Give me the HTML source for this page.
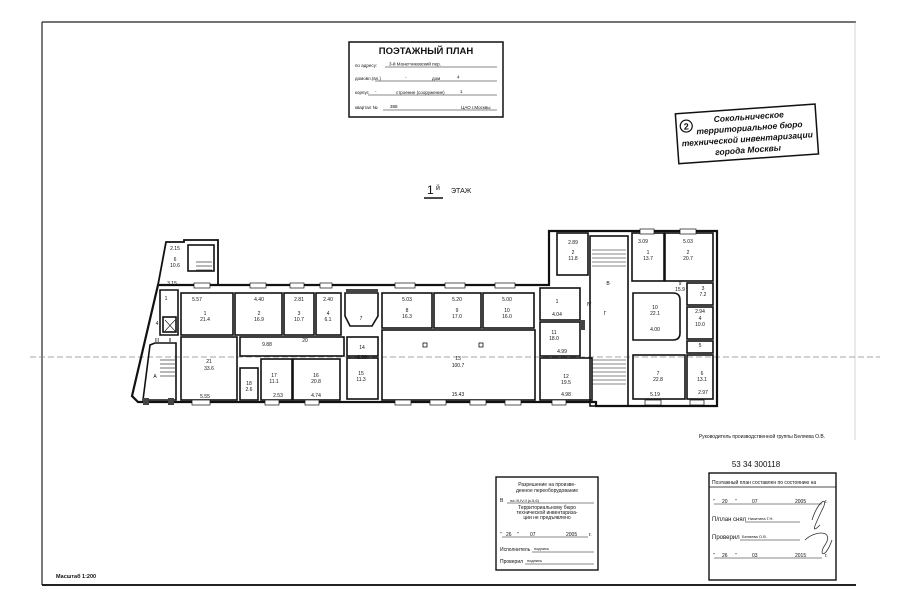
<!DOCTYPE html>
<html><head><meta charset="utf-8"><style>
html,body{margin:0;padding:0;background:#fff;}
svg{display:block;font-family:"Liberation Sans",sans-serif;}
text{fill:#111;}
</style></head><body>
<svg width="900" height="604" viewBox="0 0 900 604" xmlns="http://www.w3.org/2000/svg">
<rect width="900" height="604" fill="#fff"/>
<g stroke="#222" stroke-width="1.2" fill="none">
<line x1="42" y1="22" x2="856" y2="22"/>
<line x1="42" y1="22" x2="42" y2="585"/>
<line x1="42" y1="585" x2="856" y2="585" stroke-width="2"/>
<line x1="855" y1="22" x2="855" y2="440" stroke="#bbb" stroke-width="0.6"/>
</g>
<rect x="349" y="42" width="154" height="75" fill="none" stroke="#111" stroke-width="1.5"/>
<text x="426" y="54" font-size="9.5" font-weight="bold" text-anchor="middle">ПОЭТАЖНЫЙ ПЛАН</text>
<g font-size="4.5">
<text x="355" y="67">по адресу:</text><text x="389" y="65.5">3-й Монетчиковский пер.</text>
<line x1="385" y1="67" x2="497" y2="67" stroke="#111" stroke-width="0.6"/>
<text x="355" y="80">домовл.(вл.)</text><text x="405" y="79">-</text><text x="432" y="80">дом</text><text x="457" y="78.5">4</text>
<line x1="375" y1="81" x2="497" y2="81" stroke="#111" stroke-width="0.6"/>
<text x="355" y="94">корпус</text><text x="375" y="93">-</text><text x="396" y="94">строение (сооружение)</text><text x="460" y="93">1</text>
<line x1="368" y1="95" x2="497" y2="95" stroke="#111" stroke-width="0.6"/>
<text x="355" y="109">квартал №</text><text x="390" y="108">388</text><text x="461" y="109">ЦАО г.Москвы</text>
<line x1="383" y1="110" x2="497" y2="110" stroke="#111" stroke-width="0.6"/>
</g>
<g transform="rotate(-4 745 135)">
<rect x="677" y="109" width="140" height="50" fill="none" stroke="#111" stroke-width="1.5"/>
<circle cx="687" cy="122" r="6" fill="none" stroke="#111" stroke-width="1.2"/>
<text x="687" y="125.5" font-size="9" font-weight="bold" text-anchor="middle">2</text>
<g font-size="8.5" font-weight="bold" font-style="italic" text-anchor="middle">
<text x="750" y="120">Сокольническое</text>
<text x="750" y="131">территориальное бюро</text>
<text x="747" y="142">технической инвентаризации</text>
<text x="747" y="153">города Москвы</text>
</g></g>
<text x="427" y="194" font-size="12">1</text><text x="436" y="190" font-size="7">й</text>
<text x="451" y="193" font-size="7">ЭТАЖ</text>
<line x1="424" y1="198" x2="443" y2="198" stroke="#111" stroke-width="1.4"/>
<line x1="30" y1="357" x2="880" y2="357" stroke="#888" stroke-width="0.8" stroke-dasharray="6,3"/>
<g fill="none" stroke="#111" stroke-width="1.6">
<polygon points="158,285 549,285 549,231 717,231 717,406 596,406 596,402 138,402 132,396 158,285" stroke-width="2.2"/>
<polygon points="166,242 184,242 184,240 218,240 218,285 158,285" stroke-width="1.8"/>
<rect x="188" y="245" width="26" height="26"/>
<rect x="181" y="293" width="52" height="42"/>
<rect x="235" y="293" width="47" height="42"/>
<rect x="284" y="293" width="30" height="42"/>
<rect x="316" y="293" width="25" height="42"/>
<polygon points="345,293 378,293 378,316 372,326 350,326 345,316"/>
<rect x="347" y="337" width="31" height="19"/>
<rect x="382" y="293" width="50" height="35"/>
<rect x="434" y="293" width="47" height="35"/>
<rect x="483" y="293" width="51" height="35"/>
<rect x="240" y="337" width="104" height="19"/>
<rect x="181" y="337" width="56" height="63"/>
<rect x="240" y="368" width="18" height="32"/>
<rect x="261" y="359" width="31" height="41"/>
<rect x="293" y="359" width="47" height="41"/>
<rect x="347" y="358" width="31" height="41"/>
<rect x="382" y="330" width="153" height="70"/>
<polygon points="160,290 178,290 178,335 160,335"/>
<polygon points="155,343 176,343 176,400 143,400 150,345"/>
<rect x="163" y="317" width="13" height="15"/>
<rect x="557" y="233" width="31" height="42"/>
<rect x="540" y="288" width="40" height="32"/>
<rect x="540" y="322" width="40" height="34"/>
<rect x="540" y="358" width="52" height="42"/>
<rect x="590" y="236" width="38" height="170"/>
<rect x="632" y="233" width="32" height="48"/>
<rect x="665" y="233" width="48" height="48"/>
<path d="M633,293 L673,293 Q680,293 680,300 L680,333 Q680,340 673,340 L633,340 Z"/>
<rect x="633" y="355" width="52" height="44"/>
<rect x="687" y="355" width="26" height="44"/>
<rect x="687" y="283" width="26" height="22"/>
<rect x="687" y="307" width="26" height="32"/>
<rect x="687" y="341" width="26" height="12"/>
</g>
<g stroke="#111" stroke-width="0.6">
<line x1="196" y1="262" x2="212" y2="262"/><line x1="196" y1="266" x2="212" y2="266"/><line x1="196" y1="270" x2="212" y2="270"/>
<line x1="160" y1="360" x2="175" y2="360"/><line x1="160" y1="364" x2="175" y2="364"/><line x1="160" y1="368" x2="175" y2="368"/><line x1="160" y1="372" x2="175" y2="372"/><line x1="160" y1="376" x2="175" y2="376"/>
<line x1="592" y1="250" x2="626" y2="250"/><line x1="592" y1="254" x2="626" y2="254"/><line x1="592" y1="258" x2="626" y2="258"/><line x1="592" y1="262" x2="626" y2="262"/><line x1="592" y1="266" x2="626" y2="266"/>
<line x1="592" y1="360" x2="626" y2="360"/><line x1="592" y1="364" x2="626" y2="364"/><line x1="592" y1="368" x2="626" y2="368"/><line x1="592" y1="372" x2="626" y2="372"/><line x1="592" y1="376" x2="626" y2="376"/><line x1="592" y1="380" x2="626" y2="380"/><line x1="592" y1="384" x2="626" y2="384"/>
<line x1="165" y1="320" x2="175" y2="331"/><line x1="175" y1="320" x2="165" y2="331"/>
</g>
<g fill="#fff" stroke="#111" stroke-width="0.7">
<rect x="194" y="283" width="16" height="5"/><rect x="250" y="283" width="16" height="5"/><rect x="290" y="283" width="14" height="5"/><rect x="320" y="283" width="12" height="5"/>
<rect x="395" y="283" width="20" height="5"/><rect x="445" y="283" width="20" height="5"/><rect x="495" y="283" width="20" height="5"/>
<rect x="192" y="400" width="18" height="5"/><rect x="265" y="400" width="14" height="5"/><rect x="305" y="400" width="14" height="5"/><rect x="395" y="400" width="16" height="5"/><rect x="430" y="400" width="16" height="5"/><rect x="470" y="400" width="16" height="5"/><rect x="505" y="400" width="16" height="5"/><rect x="552" y="400" width="14" height="5"/><rect x="645" y="400" width="16" height="5"/><rect x="690" y="400" width="14" height="5"/>
<rect x="640" y="229" width="14" height="5"/><rect x="680" y="229" width="16" height="5"/>
</g>
<g fill="#444"><rect x="143" y="398" width="6" height="7"/><rect x="168" y="398" width="6" height="7"/><rect x="346" y="289" width="32" height="4"/><rect x="580" y="320" width="5" height="10"/></g>
<g fill="none" stroke="#111" stroke-width="0.8"><rect x="423" y="343" width="4" height="4"/><rect x="479" y="343" width="4" height="4"/></g>
<g font-size="5" text-anchor="middle">
<text x="175" y="250">2.15</text><text x="175" y="261">6</text><text x="175" y="267">10.6</text><text x="172" y="285">3.15</text>
<text x="166" y="300">1</text><text x="157" y="325">4</text><text x="157" y="342">III</text><text x="170" y="342">II</text><text x="155" y="378">A</text>
<text x="197" y="301">5.57</text><text x="205" y="315">1</text><text x="205" y="321">21.4</text>
<text x="259" y="301">4.40</text><text x="259" y="315">2</text><text x="259" y="321">16.9</text>
<text x="299" y="301">2.81</text><text x="299" y="315">3</text><text x="299" y="321">10.7</text>
<text x="328" y="301">2.40</text><text x="328" y="315">4</text><text x="328" y="321">6.1</text>
<text x="361" y="320">7</text><text x="362" y="349">14</text>
<text x="407" y="301">5.03</text><text x="407" y="312">8</text><text x="407" y="318">16.3</text>
<text x="457" y="301">5.20</text><text x="457" y="312">9</text><text x="457" y="318">17.0</text>
<text x="507" y="301">5.00</text><text x="507" y="312">10</text><text x="507" y="318">16.0</text>
<text x="267" y="346">9.88</text><text x="305" y="342">20</text>
<text x="209" y="363">21</text><text x="209" y="370">33.6</text><text x="205" y="398">5.55</text>
<text x="249" y="385">18</text><text x="249" y="391">2.6</text>
<text x="274" y="377">17</text><text x="274" y="383">11.1</text><text x="278" y="397">2.53</text>
<text x="316" y="377">16</text><text x="316" y="383">20.8</text><text x="316" y="397">4.74</text>
<text x="362" y="359">2.60</text><text x="361" y="375">15</text><text x="361" y="381">11.3</text>
<text x="458" y="360">13</text><text x="458" y="367">100.7</text><text x="458" y="396">15.43</text>
<text x="573" y="244">2.89</text><text x="573" y="254">2</text><text x="573" y="260">11.8</text>
<text x="557" y="303">1</text><text x="557" y="316">4.04</text>
<text x="554" y="334">11</text><text x="554" y="340">18.0</text><text x="562" y="353">4.99</text>
<text x="566" y="378">12</text><text x="566" y="384">19.5</text><text x="566" y="396">4.98</text>
<text x="608" y="285">В</text><text x="605" y="315">Г</text><text x="589" y="306">IV</text>
<text x="643" y="243">3.09</text><text x="648" y="254">1</text><text x="648" y="260">13.7</text>
<text x="688" y="243">5.03</text><text x="688" y="254">2</text><text x="688" y="260">20.7</text>
<text x="655" y="309">10</text><text x="655" y="315">22.1</text><text x="655" y="331">4.00</text>
<text x="680" y="285">9</text><text x="680" y="291">15.9</text>
<text x="703" y="290">3</text><text x="703" y="296">7.2</text>
<text x="700" y="313">2.94</text><text x="700" y="320">4</text><text x="700" y="326">10.0</text>
<text x="700" y="347">5</text>
<text x="658" y="375">7</text><text x="658" y="381">22.8</text><text x="655" y="396">5.19</text>
<text x="702" y="375">6</text><text x="702" y="381">13.1</text><text x="703" y="394">2.97</text>
</g>
<text x="762" y="438" font-size="5" fill="#777" text-anchor="middle">Руководитель производственной группы Беляева О.В.</text>
<text x="756" y="467" font-size="8" text-anchor="middle">53 34 300118</text>
<rect x="496" y="477" width="102" height="93" fill="none" stroke="#111" stroke-width="1.4"/>
<g font-size="5" text-anchor="middle">
<text x="547" y="486">Разрешение на произве-</text><text x="547" y="492">денное переоборудование</text>
<text x="547" y="509">Территориальному бюро</text><text x="547" y="514">технической инвентариза-</text><text x="547" y="519">ции не предъявлено</text>
</g>
<g font-size="5">
<text x="500" y="502">В</text><text x="510" y="502" font-size="4">на III,IV,II (к.5,6)</text>
<line x1="507" y1="503" x2="594" y2="503" stroke="#111" stroke-width="0.5"/>
<text x="500" y="536">"</text><text x="506" y="536">26</text><text x="517" y="536">"</text><text x="530" y="536">07</text><text x="566" y="536">2005</text><text x="589" y="536">г.</text>
<line x1="502" y1="537" x2="588" y2="537" stroke="#111" stroke-width="0.5"/>
<text x="500" y="551">Исполнитель</text><text x="534" y="550" font-size="4">подпись</text>
<line x1="532" y1="552" x2="594" y2="552" stroke="#111" stroke-width="0.5"/>
<text x="500" y="563">Проверил</text><text x="527" y="562" font-size="4">подпись</text>
<line x1="525" y1="564" x2="594" y2="564" stroke="#111" stroke-width="0.5"/>
</g>
<rect x="709" y="473" width="127" height="107" fill="none" stroke="#111" stroke-width="1.4"/>
<g font-size="5">
<text x="712" y="484">Поэтажный план составлен по состоянию на</text>
<line x1="709" y1="487" x2="836" y2="487" stroke="#111" stroke-width="0.8"/>
<text x="713" y="503">"</text><text x="722" y="503">20</text><text x="735" y="503">"</text><text x="752" y="503">07</text><text x="795" y="503">2005</text><text x="825" y="503">г.</text>
<line x1="714" y1="504" x2="822" y2="504" stroke="#111" stroke-width="0.5"/>
<text x="712" y="521" font-size="6">П/план снял</text><text x="748" y="520" font-size="4">Никитина Г.Н.</text>
<line x1="745" y1="522" x2="800" y2="522" stroke="#111" stroke-width="0.5"/>
<text x="712" y="539" font-size="6">Проверил</text><text x="742" y="538" font-size="4">Беляева О.В.</text>
<line x1="740" y1="540" x2="800" y2="540" stroke="#111" stroke-width="0.5"/>
<text x="713" y="557">"</text><text x="722" y="557">26</text><text x="735" y="557">"</text><text x="752" y="557">03</text><text x="795" y="557">2015</text><text x="825" y="557">г.</text>
<line x1="714" y1="558" x2="822" y2="558" stroke="#111" stroke-width="0.5"/>
</g>
<path d="M812,520 C818,500 830,495 822,510 C815,525 810,535 820,525 M805,540 C815,530 835,530 825,545 C818,555 825,560 832,540" fill="none" stroke="#333" stroke-width="0.8"/>
<text x="56" y="578" font-size="5.5" font-weight="bold">Масштаб 1:200</text>
</svg>
</body></html>
